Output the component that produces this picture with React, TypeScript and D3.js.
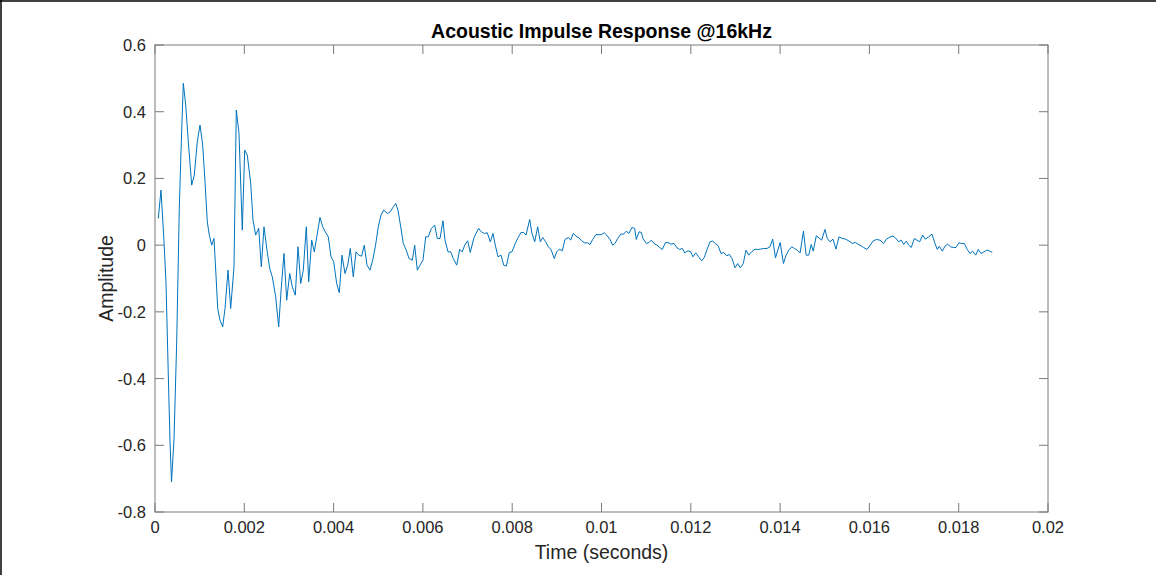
import React from "react";
import * as d3 from "d3";

const timeMs: number[] = [
  0.074, 0.134, 0.202, 0.246, 0.298, 0.336, 0.370, 0.426, 0.486, 0.544,
  0.582, 0.634, 0.688, 0.746, 0.822, 0.880, 0.947, 1.008, 1.068, 1.120,
  1.171, 1.216, 1.270, 1.321, 1.366, 1.404, 1.456, 1.516, 1.568, 1.635,
  1.695, 1.769, 1.821, 1.881, 1.955, 2.009, 2.067, 2.143, 2.195, 2.255,
  2.322, 2.381, 2.441, 2.508, 2.569, 2.627, 2.703, 2.770, 2.829, 2.889,
  2.950, 3.017, 3.075, 3.142, 3.203, 3.263, 3.321, 3.389, 3.442, 3.509,
  3.568, 3.695, 3.756, 3.814, 3.881, 3.942, 4.002, 4.069, 4.128, 4.188,
  4.255, 4.316, 4.374, 4.441, 4.502, 4.562, 4.629, 4.687, 4.748, 4.815,
  4.876, 4.934, 5.001, 5.062, 5.122, 5.203, 5.270, 5.337, 5.391, 5.442,
  5.503, 5.561, 5.628, 5.689, 5.763, 5.816, 5.875, 5.935, 6.002, 6.063,
  6.121, 6.188, 6.264, 6.322, 6.383, 6.450, 6.495, 6.562, 6.622, 6.681,
  6.757, 6.824, 6.882, 6.936, 7.003, 7.061, 7.138, 7.189, 7.250, 7.308,
  7.375, 7.442, 7.509, 7.570, 7.621, 7.682, 7.749, 7.810, 7.868, 7.935,
  7.995, 8.069, 8.130, 8.197, 8.258, 8.309, 8.392, 8.443, 8.504, 8.571,
  8.629, 8.683, 8.750, 8.808, 8.869, 8.943, 8.997, 9.055, 9.122, 9.182,
  9.256, 9.310, 9.368, 9.429, 9.496, 9.556, 9.615, 9.682, 9.742, 9.803,
  9.877, 9.944, 10.004, 10.063, 10.116, 10.190, 10.251, 10.302, 10.363, 10.430,
  10.497, 10.555, 10.615, 10.682, 10.743, 10.779, 10.840, 10.891, 10.929, 11.003,
  11.064, 11.115, 11.176, 11.243, 11.303, 11.361, 11.429, 11.489, 11.550, 11.624,
  11.691, 11.751, 11.810, 11.863, 11.937, 11.998, 12.049, 12.110, 12.177, 12.244,
  12.302, 12.363, 12.430, 12.490, 12.549, 12.616, 12.676, 12.737, 12.804, 12.862,
  12.923, 12.990, 13.050, 13.108, 13.176, 13.236, 13.297, 13.364, 13.438, 13.498,
  13.557, 13.633, 13.706, 13.774, 13.834, 13.897, 14.001, 14.075, 14.135, 14.194,
  14.261, 14.322, 14.382, 14.449, 14.523, 14.584, 14.642, 14.696, 14.743, 14.810,
  14.871, 14.931, 15.005, 15.057, 15.117, 15.184, 15.251, 15.318, 15.392, 15.469,
  15.543, 15.617, 15.684, 15.745, 15.812, 15.872, 15.946, 16.020, 16.081, 16.155,
  16.238, 16.320, 16.379, 16.455, 16.528, 16.580, 16.656, 16.714, 16.768, 16.826,
  16.880, 16.938, 17.006, 17.066, 17.126, 17.193, 17.252, 17.328, 17.402, 17.469,
  17.520, 17.565, 17.632, 17.693, 17.753, 17.820, 17.879, 17.939, 18.006, 18.067,
  18.125, 18.192, 18.253, 18.313, 18.381, 18.439, 18.500, 18.567, 18.627, 18.685,
  18.752,
];

const amplitude: number[] = [
  0.080, 0.165, 0.010, -0.110, -0.389, -0.589, -0.710, -0.580, -0.290, 0.110,
  0.280, 0.485, 0.420, 0.310, 0.180, 0.210, 0.310, 0.360, 0.300, 0.190,
  0.070, 0.030, 0.000, 0.020, -0.090, -0.190, -0.225, -0.245, -0.190, -0.075,
  -0.190, -0.065, 0.405, 0.335, 0.045, 0.285, 0.270, 0.186, 0.075, 0.030,
  0.051, -0.065, 0.055, -0.015, -0.070, -0.095, -0.155, -0.245, -0.125, -0.025,
  -0.165, -0.085, -0.125, -0.150, -0.005, -0.115, -0.075, 0.055, -0.110, 0.015,
  -0.020, 0.083, 0.055, 0.040, 0.025, -0.035, -0.050, -0.115, -0.143, -0.030,
  -0.085, -0.060, -0.010, -0.095, -0.020, -0.030, -0.033, 0.000, -0.060, -0.075,
  -0.045, -0.005, 0.055, 0.090, 0.105, 0.095, 0.100, 0.115, 0.125, 0.105,
  0.055, 0.005, -0.015, -0.040, -0.045, 0.000, -0.075, -0.060, -0.045, 0.025,
  0.025, 0.050, 0.060, 0.020, 0.020, 0.073, 0.015, -0.020, -0.020, -0.040,
  -0.060, -0.013, -0.020, 0.000, 0.013, -0.022, 0.020, 0.035, 0.050, 0.040,
  0.035, 0.037, 0.010, 0.035, 0.000, -0.035, -0.030, -0.060, -0.063, -0.022,
  -0.020, 0.005, 0.022, 0.038, 0.038, 0.030, 0.077, 0.035, 0.010, 0.055,
  0.010, 0.023, 0.010, -0.005, -0.013, -0.040, -0.020, -0.012, -0.017, 0.017,
  0.023, 0.015, 0.035, 0.027, 0.022, 0.013, 0.007, 0.007, 0.002, 0.017,
  0.032, 0.031, 0.032, 0.037, 0.030, 0.017, 0.000, 0.005, 0.020, 0.033,
  0.033, 0.042, 0.035, 0.053, 0.050, 0.017, 0.040, 0.038, 0.020, 0.005,
  0.008, 0.015, 0.005, 0.000, -0.007, -0.013, 0.007, 0.008, 0.003, 0.005,
  -0.008, -0.013, -0.010, -0.023, -0.017, -0.020, -0.035, -0.023, -0.035, -0.047,
  -0.037, -0.013, 0.010, 0.012, 0.005, -0.003, -0.025, -0.022, -0.032, -0.028,
  -0.040, -0.068, -0.055, -0.068, -0.055, -0.015, -0.030, -0.020, -0.012, -0.013,
  -0.012, -0.010, -0.010, -0.005, 0.018, -0.038, 0.008, -0.055, -0.030, -0.015,
  -0.005, -0.010, -0.015, -0.023, 0.042, -0.030, -0.030, 0.002, -0.018, 0.028,
  0.022, 0.015, 0.047, 0.020, 0.010, 0.018, -0.012, 0.025, 0.020, 0.018,
  0.012, 0.005, 0.008, 0.003, -0.002, -0.007, -0.013, 0.000, 0.012, 0.017,
  0.015, 0.005, 0.018, 0.024, 0.027, 0.022, 0.010, 0.015, 0.002, 0.012,
  0.000, -0.007, 0.020, 0.015, 0.010, 0.030, 0.018, 0.025, 0.033, 0.005,
  -0.013, -0.003, -0.018, -0.003, 0.003, -0.005, -0.007, -0.007, 0.007, 0.005,
  0.005, -0.013, -0.025, -0.018, -0.030, -0.013, -0.025, -0.020, -0.015, -0.017,
  -0.022,
];

const xTicks: number[] = [0, 0.002, 0.004, 0.006, 0.008, 0.01, 0.012, 0.014, 0.016, 0.018, 0.02];
const xTickLabels: string[] = ["0", "0.002", "0.004", "0.006", "0.008", "0.01", "0.012", "0.014", "0.016", "0.018", "0.02"];
const yTicks: number[] = [-0.8, -0.6, -0.4, -0.2, 0, 0.2, 0.4, 0.6];
const yTickLabels: string[] = ["-0.8", "-0.6", "-0.4", "-0.2", "0", "0.2", "0.4", "0.6"];

const titleText = "Acoustic Impulse Response @16kHz";
const xLabel = "Time (seconds)";
const yLabel = "Amplitude";

export default function App() {
  const W = 1156;
  const H = 575;
  const left = 155;
  const right = 1048;
  const top = 45;
  const bottom = 512;
  const x = d3.scaleLinear().domain([0, 0.02]).range([left, right]);
  const y = d3.scaleLinear().domain([-0.8, 0.6]).range([bottom, top]);
  const pts: [number, number][] = timeMs.map((t, i) => [t / 1000, amplitude[i]]);
  const line = d3
    .line<[number, number]>()
    .x((d) => x(d[0]))
    .y((d) => y(d[1]));
  const axisColor = "#7a7a7a";
  const textColor = "#262626";
  const tickLen = 9;
  const font = "'Liberation Sans', Arial, Helvetica, sans-serif";

  return (
    <svg
      width={W}
      height={H}
      style={{ position: "absolute", left: 0, top: 0, background: "#fff" }}
      fontFamily={font}
    >
      <rect x={0} y={0} width={W} height={H} fill="#fff" />
      <line x1={0} y1={1} x2={W} y2={1} stroke="#000" strokeWidth={1.5} />
      <line x1={1} y1={0} x2={1} y2={H} stroke="#000" strokeWidth={1.5} />
      <path d={line(pts) || ""} fill="none" stroke="#0072BD" strokeWidth={1} strokeLinejoin="round" />
      <rect x={left} y={top} width={right - left} height={bottom - top} fill="none" stroke={axisColor} strokeWidth={1} />
      {xTicks.map((t, i) => (
        <g key={"x" + i}>
          <line x1={x(t)} x2={x(t)} y1={bottom} y2={bottom - tickLen} stroke={axisColor} />
          <line x1={x(t)} x2={x(t)} y1={top} y2={top + tickLen} stroke={axisColor} />
          <text x={x(t)} y={bottom + 21} textAnchor="middle" fontSize={16.5} fill={textColor}>
            {xTickLabels[i]}
          </text>
        </g>
      ))}
      {yTicks.map((t, i) => (
        <g key={"y" + i}>
          <line x1={left} x2={left + tickLen} y1={y(t)} y2={y(t)} stroke={axisColor} />
          <line x1={right} x2={right - tickLen} y1={y(t)} y2={y(t)} stroke={axisColor} />
          <text x={left - 9} y={y(t) + 6} textAnchor="end" fontSize={16.5} fill={textColor}>
            {yTickLabels[i]}
          </text>
        </g>
      ))}
      <text x={(left + right) / 2} y={38} textAnchor="middle" fontSize={19.5} fontWeight="bold" fill="#000">
        {titleText}
      </text>
      <text x={(left + right) / 2} y={559} textAnchor="middle" fontSize={19.5} fill={textColor}>
        {xLabel}
      </text>
      <text
        transform={`translate(113, ${(top + bottom) / 2}) rotate(-90)`}
        textAnchor="middle"
        fontSize={19.5}
        fill={textColor}
      >
        {yLabel}
      </text>
    </svg>
  );
}
